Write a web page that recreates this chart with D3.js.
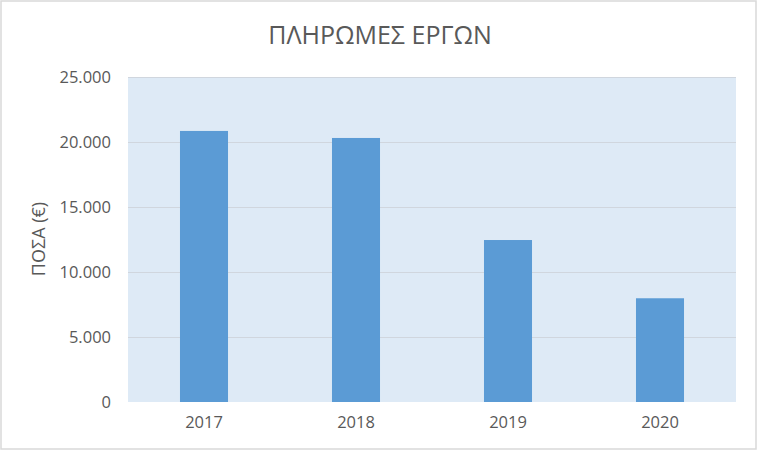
<!DOCTYPE html>
<html>
  <head>
    <meta charset="utf-8">
    <script src="https://d3js.org/d3.v7.min.js"></script>
    <title>ΠΛΗΡΩΜΕΣ ΕΡΓΩΝ</title>
    <style type="text/css">
body {
  margin: 0;
  background-color: #FFFFFF;
}
svg text {
  font-family: 'Open Sans', sans-serif;
  fill: #595959;
}
.grid line {
  stroke: #D0D6DE;
  stroke-width: 1px;
}
    </style>
  </head>
  <body>

<svg></svg>

<script type="text/javascript">
  const years = ["2017", "2018", "2019", "2020"];
  const payments = [20850, 20310, 12460, 7980];
  const yTicks = [0, 5000, 10000, 15000, 20000, 25000];

  const width = 759;
  const height = 451;
  const plot = { left: 128, right: 736, top: 77, bottom: 402 };

  const svg = d3.select("svg")
      .attr("width", width)
      .attr("height", height);

  // chart border
  svg.append("rect")
      .attr("x", 1)
      .attr("y", 1)
      .attr("width", 755)
      .attr("height", 448)
      .attr("fill", "#FFFFFF")
      .attr("stroke", "#D9D9D9")
      .attr("stroke-width", 1.5);

  const x = d3.scaleBand()
      .domain(years)
      .range([plot.left, plot.right])
      .paddingInner(0.684)
      .paddingOuter(0.342);

  const y = d3.scaleLinear()
      .domain([0, 25000])
      .range([plot.bottom, plot.top]);

  // plot area background
  svg.append("rect")
      .attr("x", plot.left)
      .attr("y", plot.top)
      .attr("width", plot.right - plot.left)
      .attr("height", plot.bottom - plot.top)
      .attr("fill", "#DEEAF6");

  svg.append("g")
      .attr("class", "grid")
    .selectAll("line")
    .data(yTicks.filter(d => d > 0))
    .enter().append("line")
      .attr("x1", plot.left)
      .attr("x2", plot.right)
      .attr("y1", d => Math.round(y(d)) + 0.5)
      .attr("y2", d => Math.round(y(d)) + 0.5);

  svg.append("g")
    .selectAll("rect")
    .data(payments)
    .enter().append("rect")
      .attr("x", (d, i) => x(years[i]))
      .attr("y", d => y(d))
      .attr("width", x.bandwidth())
      .attr("height", d => y(0) - y(d))
      .attr("fill", "#5B9BD5");

  const fmt = d3.formatLocale({ decimal: ",", thousands: ".", grouping: [3], currency: ["", " €"] }).format(",");

  const yAxis = svg.append("g")
      .attr("transform", "translate(" + (plot.left - 17) + ",0)")
      .call(d3.axisLeft(y).tickValues(yTicks).tickSize(0).tickPadding(0).tickFormat(fmt));
  yAxis.select(".domain").remove();
  yAxis.selectAll("text")
      .style("font-size", "16.5px")
      .attr("fill", "#595959");

  const xAxis = svg.append("g")
      .attr("transform", "translate(0," + plot.bottom + ")")
      .call(d3.axisBottom(x).tickSize(0).tickPadding(14));
  xAxis.select(".domain").remove();
  xAxis.selectAll("text")
      .style("font-size", "16.5px")
      .attr("fill", "#595959");

  svg.append("text")
      .attr("x", 380)
      .attr("y", 44)
      .attr("text-anchor", "middle")
      .style("font-size", "25px")
      .text("ΠΛΗΡΩΜΕΣ ΕΡΓΩΝ");

  svg.append("text")
      .attr("transform", "translate(45,239) rotate(-90)")
      .attr("text-anchor", "middle")
      .style("font-size", "18px")
      .text("ΠΟΣΑ (€)");
</script>
  </body>
</html>
